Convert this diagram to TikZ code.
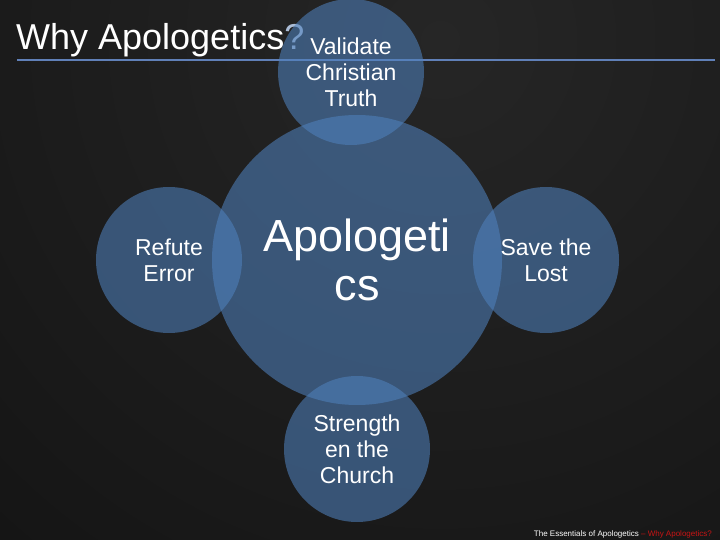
\documentclass[tikz,border=0pt]{standalone}
\usepackage{fontspec}
\setmainfont{Liberation Sans}
\definecolor{cblue}{RGB}{79,129,189}
\definecolor{qblue}{RGB}{170,188,214}
\definecolor{rulecol}{RGB}{96,128,184}
\definecolor{footred}{RGB}{200,20,20}
\definecolor{bginner}{RGB}{38,38,38}
\definecolor{bgouter}{RGB}{6,6,6}
\begin{document}
\begin{tikzpicture}[x=1pt,y=-1pt,
  bubble/.style={circle, fill=cblue, fill opacity=0.57, text opacity=1, text=white,
    inner sep=0pt, align=center, font=\fontsize{23}{26}\selectfont},
  small/.style={bubble, minimum size=146pt},
  big/.style={bubble, minimum size=290pt, font=\fontsize{45}{49}\selectfont}]
\useasboundingbox (0,0) rectangle (720,540);
\begin{scope}
  \clip (0,0) rectangle (720,540);
  \shade[inner color=bginner, outer color=bgouter] (440,40) circle (1250);
\end{scope}
% rule under title
\coordinate (rl) at (17,60);
\coordinate (rr) at (715,60);
\draw[rulecol, line width=1.2pt] (rl) -- (rr);
% title
\node[anchor=base west, inner sep=0pt, text=white, font=\fontsize{36}{40}\selectfont]
  (title) at (16,50) {Why Apologetics\textcolor{qblue}{?}};
% circles
\node[big] (center) at (357,260) {Apologeti\\cs};
\node[small] (top) at (351,72) {Validate\\Christian\\Truth};
\node[small] (left) at (169,260) {Refute\\Error};
\node[small] (right) at (546,260) {Save the\\Lost};
\node[small] (bottom) at (357,449) {Strength\\en the\\Church};
% footer
\node[anchor=base east, inner sep=0pt, text=white, font=\fontsize{8}{9}\selectfont]
  (footer) at (712,536) {The Essentials of Apologetics \textcolor{footred}{– Why Apologetics?}};
\end{tikzpicture}
\end{document}
